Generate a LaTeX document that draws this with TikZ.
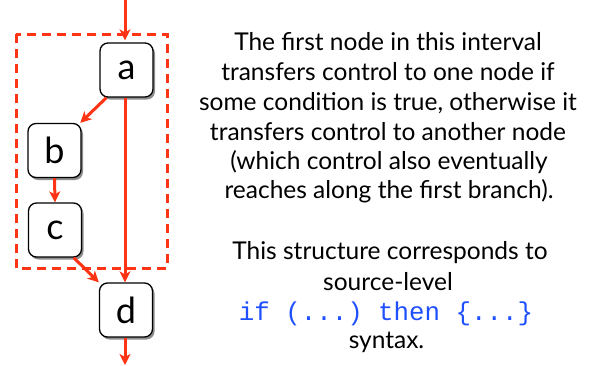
\documentclass[tikz,border=0pt]{standalone}
\usepackage{fontspec}
\setmainfont{Lato}
\setmonofont{Liberation Mono}
\usetikzlibrary{arrows.meta,shadows}
\definecolor{flowred}{RGB}{255,52,20}
\definecolor{codeblue}{RGB}{30,80,255}
\begin{document}
\begin{tikzpicture}[x=1pt,y=-1pt,
  blk/.style={draw=black,line width=1.3pt,fill=white,rounded corners=8pt,
    minimum width=53pt,minimum height=54pt,inner sep=0pt,
    font=\fontsize{36}{36}\selectfont,
    drop shadow={shadow xshift=2pt,shadow yshift=-2.5pt,opacity=0.45,fill=black}},
  flow/.style={draw=flowred,line width=3pt,
    -{Stealth[length=11pt,width=11pt,inset=3pt]}},
  txt/.style={anchor=base,inner sep=0pt,font=\fontsize{24.5}{30}\selectfont},
  interval/.style={draw=flowred,line width=3pt,dash pattern=on 9pt off 6pt}]
\useasboundingbox (0,0) rectangle (592,365);
\draw[interval] (16,34) rectangle (167,268);
\node[blk] (a) at (126.5,70) {a};
\node[blk] (b) at (54.5,150.5) {b};
\node[blk] (c) at (55,230) {c};
\node[blk] (d) at (126,310) {d};
\coordinate (in) at (125,0);
\coordinate (out) at (125,365);
\draw[flow,shorten >=2pt] (in) -- (in |- a.north);
\draw[flow] (a.234) -- (b.47);
\draw[flow] ([xshift=-1.5pt]a.south) -- ([xshift=-1pt]d.north);
\draw[flow] (b.south) -- (c.north);
\draw[flow] (c.304) -- (d.north west);
\draw[flow] ([xshift=-1pt]d.south) -- (out);
\node[txt] (t1) at (388,50) {The first node in this interval};
\node[txt] (t2) at (388,80) {transfers control to one node if};
\node[txt] (t3) at (388,110) {some condition is true, otherwise it};
\node[txt] (t4) at (388,140) {transfers control to another node};
\node[txt] (t5) at (389,169) {(which control also eventually};
\node[txt] (t6) at (389,198) {reaches along the first branch).};
\node[txt] (t7) at (390,259) {This structure corresponds to};
\node[txt] (t8) at (388,290) {source-level};
\node[txt,text=codeblue,font=\ttfamily\fontsize{25.8}{30}\selectfont] (t9) at (386,320) {if (...) then \{...\}};
\node[txt] (t10) at (386.5,348) {syntax.};
\end{tikzpicture}
\end{document}
